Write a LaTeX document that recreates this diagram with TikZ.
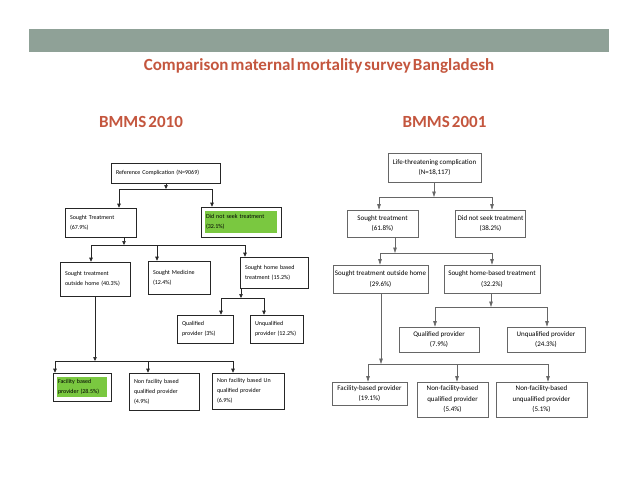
\documentclass[tikz,border=0pt]{standalone}
\usepackage{fontspec}
\setmainfont{Carlito}
\newfontfamily\headfont{Carlito}[WordSpace=0.55]
\usetikzlibrary{arrows.meta}
\definecolor{bandgray}{RGB}{143,161,151}
\definecolor{headred}{RGB}{196,86,62}
\definecolor{leafgreen}{RGB}{122,200,64}
\tikzset{
  oldbox/.style={draw=black!85, line width=0.6pt, align=left, inner xsep=5pt, inner ysep=3pt,
    font=\fontsize{6}{10}\selectfont},
  newbox/.style={draw=black!60, line width=0.6pt, align=center, inner sep=2pt,
    font=\fontsize{7}{10.5}\selectfont},
  greenin/.style={path picture={\fill[leafgreen]
    ([xshift=4pt,yshift=-4pt]path picture bounding box.north west) rectangle
    ([xshift=-4pt,yshift=4pt]path picture bounding box.south east);}},
  oldline/.style={draw=black!85, line width=0.6pt},
  newline/.style={draw=black!60, line width=0.6pt},
  oldarr/.style={oldline, -{Triangle[length=4pt,width=3.5pt]}},
  newarr/.style={newline, -{Triangle[length=5.5pt,width=3.5pt]}},
  headline/.style={text=headred, font=\headfont\bfseries\fontsize{17}{20}\selectfont},
}
\begin{document}
\begin{tikzpicture}[x=1pt,y=-1pt]
\useasboundingbox (0,0) rectangle (638,493);

% header band
\fill[bandgray] (29,29) rectangle (609,52);
% Text Node
\node[headline] (title) at (319,66) {Comparison maternal mortality survey Bangladesh};
% Text Node
\node[headline] (bmms10) at (141,122) {BMMS 2010};
% Text Node
\node[headline] (bmms01) at (444.5,122) {BMMS 2001};

%%% BMMS 2010 tree
% Text Node
\node[oldbox, text width=99pt, minimum height=20pt] (ref) at (165.5,173) {Reference Complication (N=9069)};
% Text Node
\node[oldbox, text width=61pt, minimum height=29pt] (st) at (100.5,222.5) {Sought Treatment\\(67.9\%)};
% Text Node
\node[oldbox, greenin, text width=70pt, minimum height=30pt] (dns) at (241,222) {Did not seek treatment\\(32.1\%)};
% Text Node
\node[oldbox, text width=60pt, minimum height=34pt] (sto) at (95,279) {Sought treatment\\outside home (40.3\%)};
% Text Node
\node[oldbox, text width=52pt, minimum height=33pt] (sm) at (179,277.5) {Sought Medicine\\(12.4\%)};
% Text Node
\node[oldbox, text width=58pt, minimum height=31pt] (shb) at (274,272.5) {Sought home based\\treatment (15.2\%)};
% Text Node
\node[oldbox, text width=46pt, minimum height=28pt] (qp) at (205,329) {Qualified\\provider (3\%)};
% Text Node
\node[oldbox, text width=43pt, minimum height=28pt] (up) at (276.5,329) {Unqualified\\provider (12.2\%)};
% Text Node
\node[oldbox, greenin, text width=48pt, minimum height=28pt] (fb) at (82,387) {Facility based\\provider (28.5\%)};
% Text Node
\node[oldbox, text width=60pt, minimum height=37pt] (nfq) at (164,391.5) {Non facility based\\qualified provider\\(4.9\%)};
% Text Node
\node[oldbox, text width=62pt, minimum height=36pt] (nfu) at (248,391) {Non facility based Un\\qualified provider\\(6.9\%)};

% Connection
\coordinate (ka) at (166,189);
\coordinate (kaL) at (119,189);
\coordinate (kaR) at (212,189);
\draw[oldarr] (ref.south -| ka) -- (ka);
\draw[oldline] (kaL) -- (kaR);
\draw[oldarr] (kaL) -- (kaL |- st.north);
\draw[oldarr] (kaR) -- (kaR |- dns.north);
% Connection
\coordinate (kb) at (124,245);
\coordinate (kbL) at (91,245);
\coordinate (kbM) at (157,245);
\coordinate (kbR) at (245,245);
\draw[oldarr] (st.south -| kb) -- (kb);
\draw[oldline] (kbL) -- (kbR);
\draw[oldarr] (kbL) -- (kbL |- sto.north);
\draw[oldarr] (kbM) -- (kbM |- sm.north);
\draw[oldarr] (kbR) -- (kbR |- shb.north);
% Connection
\coordinate (kc) at (241,298);
\coordinate (kcL) at (221,298);
\coordinate (kcR) at (264,298);
\draw[oldarr] (shb.south -| kc) -- (kc);
\draw[oldline] (kcL) -- (kcR);
\draw[oldarr] (kcL) -- (kcL |- qp.north);
\draw[oldarr] (kcR) -- (kcR |- up.north);
% Connection
\coordinate (kd) at (95,361);
\coordinate (kdL) at (55,361);
\coordinate (kdM) at (148,361);
\coordinate (kdR) at (233,361);
\draw[oldarr] (sto.south -| kd) -- (kd);
\draw[oldline] (kdL) -- (kdR);
\draw[oldarr] (kdL) -- (kdL |- fb.north);
\draw[oldarr] (kdM) -- (kdM |- nfq.north);
\draw[oldarr] (kdR) -- (kdR |- nfu.north);

%%% BMMS 2001 tree
% Text Node
\node[newbox, minimum width=93pt, minimum height=29pt] (ltc) at (434.5,167.5) {Life-threatening complication\\(N=18,117)};
% Text Node
\node[newbox, minimum width=71pt, minimum height=27pt] (rst) at (382.5,223.5) {Sought treatment\\(61.8\%)};
% Text Node
\node[newbox, minimum width=69pt, minimum height=27pt] (rdns) at (490.5,223.5) {Did not seek treatment\\(38.2\%)};
% Text Node
\node[newbox, minimum width=95pt, minimum height=28pt] (rsto) at (380.5,279) {Sought treatment outside home\\(29.6\%)};
% Text Node
\node[newbox, minimum width=96pt, minimum height=28pt] (rshb) at (492,279) {Sought home-based treatment\\(32.2\%)};
% Text Node
\node[newbox, minimum width=80pt, minimum height=25pt] (rqp) at (439,339.5) {Qualified provider\\(7.9\%)};
% Text Node
\node[newbox, minimum width=78pt, minimum height=25pt] (rup) at (546,339.5) {Unqualified provider\\(24.3\%)};
% Text Node
\node[newbox, minimum width=75pt, minimum height=23pt] (rfb) at (369.5,393.5) {Facility-based provider\\(19.1\%)};
% Text Node
\node[newbox, minimum width=71pt, minimum height=35pt] (rnfq) at (452.5,399.5) {Non-facility-based\\qualified provider\\(5.4\%)};
% Text Node
\node[newbox, minimum width=91pt, minimum height=35pt] (rnfu) at (541.5,399.5) {Non-facility-based\\unqualified provider\\(5.1\%)};

% Connection
\coordinate (ma) at (434,197);
\coordinate (maL) at (379,197);
\coordinate (maR) at (492,197);
\draw[newarr] (ltc.south -| ma) -- (ma);
\draw[newline] (maL) -- (maR);
\draw[newarr] (maL) -- (maL |- rst.north);
\draw[newarr] (maR) -- (maR |- rdns.north);
% Connection
\coordinate (mb) at (395,253);
\coordinate (mbL) at (380,253);
\coordinate (mbR) at (492,253);
\draw[newarr] (rst.south -| mb) -- (mb);
\draw[newline] (mbL) -- (mbR);
\draw[newarr] (mbL) -- (mbL |- rsto.north);
\draw[newarr] (mbR) -- (mbR |- rshb.north);
% Connection
\coordinate (mc) at (491,307);
\coordinate (mcL) at (435,307);
\coordinate (mcR) at (547,307);
\draw[newarr] (rshb.south -| mc) -- (mc);
\draw[newline] (mcL) -- (mcR);
\draw[newarr] (mcL) -- (mcL |- rqp.north);
\draw[newarr] (mcR) -- (mcR |- rup.north);
% Connection
\coordinate (md) at (381,364);
\coordinate (mdL) at (368,364);
\coordinate (mdM) at (457,364);
\coordinate (mdR) at (548,364);
\draw[newarr] (rsto.south -| md) -- (md);
\draw[newline] (mdL) -- (mdR);
\draw[newarr] (mdL) -- (mdL |- rfb.north);
\draw[newarr] (mdM) -- (mdM |- rnfq.north);
\draw[newarr] (mdR) -- (mdR |- rnfu.north);
\end{tikzpicture}
\end{document}
